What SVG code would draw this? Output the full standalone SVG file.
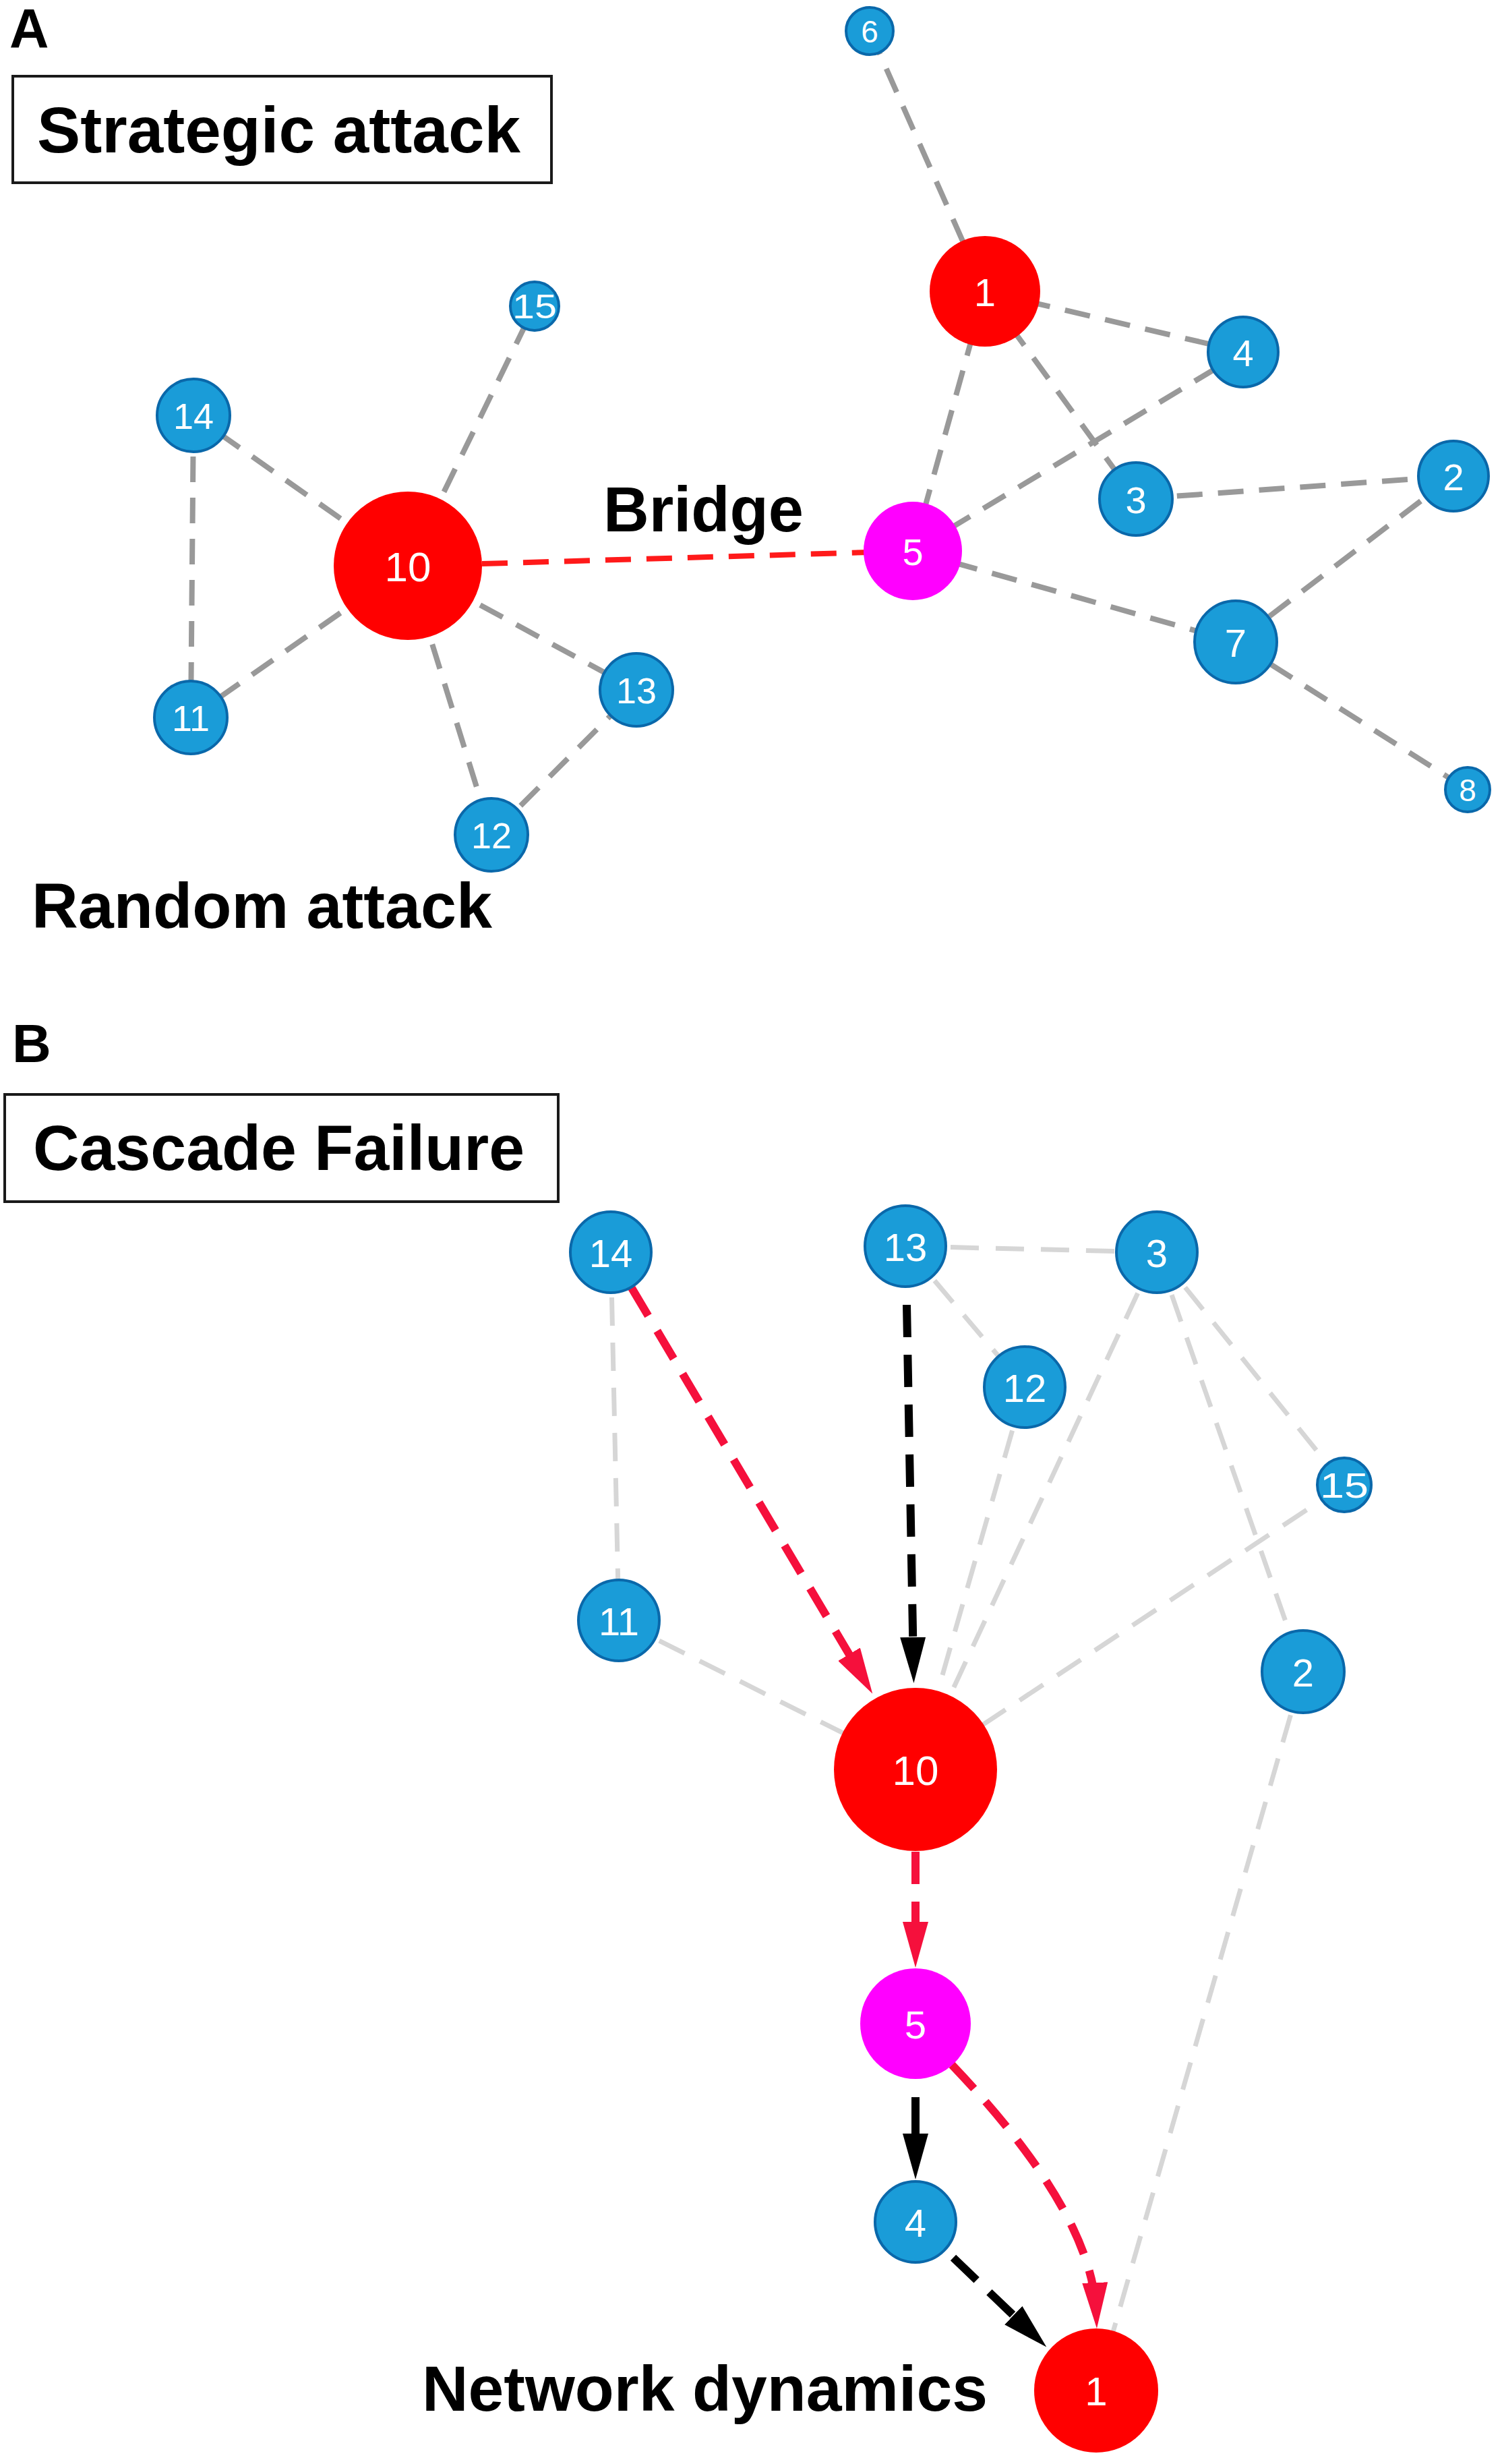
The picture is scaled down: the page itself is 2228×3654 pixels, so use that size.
<svg xmlns="http://www.w3.org/2000/svg" width="2228" height="3654" viewBox="0 0 2228 3654">
<style>
.bg{fill:#ffffff}
.lbl{font-family:"Liberation Sans",Arial,sans-serif;font-weight:bold;fill:#000}
.box{fill:#fff;stroke:#1a1a1a;stroke-width:4}
.blue{fill:#1a9cd8;stroke:#0a68aa;stroke-width:4}
.red{fill:#ff0000}
.mag{fill:#ff00ff}
.nt{font-family:"Liberation Sans",Arial,sans-serif;fill:#fff;text-anchor:middle;dominant-baseline:central}
.ga{stroke:#999999;stroke-width:8;stroke-dasharray:38 23;fill:none}
.gb{stroke:#d6d6d6;stroke-width:7;stroke-dasharray:42 25;fill:none}
.ra{stroke:#ff1a1a;stroke-width:8;stroke-dasharray:38 23;fill:none}
.rb{stroke:#f5103c;stroke-width:12;stroke-dasharray:48 26;fill:none}
.kb{stroke:#000;stroke-width:12;stroke-dasharray:48 26;fill:none}
.ks{stroke:#000;stroke-width:12;fill:none}
</style>
<defs>
<marker id="arR" markerUnits="userSpaceOnUse" markerWidth="68" markerHeight="38" viewBox="0 0 68 38" refX="44" refY="19" orient="auto">
<path d="M0,0 L68,19 L0,38 z" fill="#f5103c"/>
</marker>
<marker id="arK" markerUnits="userSpaceOnUse" markerWidth="68" markerHeight="38" viewBox="0 0 68 38" refX="44" refY="19" orient="auto">
<path d="M0,0 L68,19 L0,38 z" fill="#000"/>
</marker>
</defs>
<rect class="bg" x="0" y="0" width="2228" height="3654"/>

<!-- Panel A texts -->
<text class="lbl" x="14" y="70" font-size="81">A</text>
<g id="box-strategic">
<rect class="box" x="19" y="113" width="799" height="158"/>
<text class="lbl" x="55" y="226" font-size="97" textLength="717" lengthAdjust="spacingAndGlyphs">Strategic attack</text>
</g>
<text class="lbl" x="895" y="788" font-size="94" textLength="297" lengthAdjust="spacingAndGlyphs">Bridge</text>
<text class="lbl" x="47" y="1376" font-size="95" textLength="683" lengthAdjust="spacingAndGlyphs">Random attack</text>

<!-- Panel B texts -->
<text class="lbl" x="18" y="1575" font-size="80">B</text>
<g id="box-cascade">
<rect class="box" x="7" y="1623" width="821" height="159"/>
<text class="lbl" x="49" y="1735" font-size="95" textLength="729" lengthAdjust="spacingAndGlyphs">Cascade Failure</text>
</g>
<text class="lbl" x="626" y="3575" font-size="95" textLength="839" lengthAdjust="spacingAndGlyphs">Network dynamics</text>

<!-- Connectors -->
<g id="connectors">
<!-- Panel A -->
<line class="ga" x1="1290" y1="46" x2="1461" y2="432"/>
<line class="ga" x1="1461" y1="432" x2="1844" y2="522"/>
<line class="ga" x1="1461" y1="432" x2="1685" y2="740"/>
<line class="ga" x1="1461" y1="432" x2="1354" y2="817"/>
<line class="ga" x1="1354" y1="817" x2="1844" y2="522"/>
<line class="ga" x1="1685" y1="740" x2="2156" y2="706"/>
<line class="ga" x1="2156" y1="706" x2="1833" y2="952"/>
<line class="ga" x1="1354" y1="817" x2="1833" y2="952"/>
<line class="ga" x1="1833" y1="952" x2="2177" y2="1171"/>
<line class="ga" x1="605" y1="839" x2="793" y2="454"/>
<line class="ga" x1="605" y1="839" x2="287" y2="616"/>
<line class="ga" x1="287" y1="616" x2="283" y2="1064"/>
<line class="ga" x1="605" y1="839" x2="283" y2="1064"/>
<line class="ga" x1="605" y1="839" x2="944" y2="1023"/>
<line class="ga" x1="605" y1="839" x2="729" y2="1238"/>
<line class="ga" x1="729" y1="1238" x2="944" y2="1023"/>
<line class="ra" x1="715" y1="836" x2="1290" y2="819"/>
<!-- Panel B light edges -->
<line class="gb" x1="906" y1="1857" x2="918" y2="2403"/>
<line class="gb" x1="1343" y1="1848" x2="1716" y2="1857"/>
<line class="gb" x1="1343" y1="1848" x2="1520" y2="2057"/>
<line class="gb" x1="918" y1="2403" x2="1358" y2="2624"/>
<line class="gb" x1="1520" y1="2057" x2="1358" y2="2624"/>
<line class="gb" x1="1716" y1="1857" x2="1358" y2="2624"/>
<line class="gb" x1="1994" y1="2202" x2="1358" y2="2624"/>
<line class="gb" x1="1716" y1="1857" x2="1994" y2="2202"/>
<line class="gb" x1="1716" y1="1857" x2="1933" y2="2479"/>
<line class="gb" x1="1933" y1="2479" x2="1626" y2="3545"/>
<!-- Panel B arrows -->
<line class="rb" x1="937" y1="1910" x2="1282" y2="2491" marker-end="url(#arR)"/>
<line class="kb" x1="1345" y1="1935" x2="1355" y2="2472" marker-end="url(#arK)"/>
<line class="rb" x1="1358" y1="2746" x2="1358" y2="2894" marker-end="url(#arR)"/>
<line class="ks" x1="1358" y1="3110" x2="1358" y2="3208" marker-end="url(#arK)"/>
<line class="kb" x1="1414" y1="3348" x2="1535" y2="3464" marker-end="url(#arK)"/>
<path class="rb" d="M1412,3062 Q1620,3280 1626,3429" marker-end="url(#arR)"/>
</g>

<!-- Panel A nodes -->
<g id="a-n6"><circle class="blue" cx="1290" cy="46" r="35"/><text class="nt" x="1290" y="47" font-size="46">6</text></g>
<g id="a-n1"><circle class="red" cx="1461" cy="432" r="82"/><text class="nt" x="1461" y="433" font-size="58">1</text></g>
<g id="a-n4"><circle class="blue" cx="1844" cy="522" r="52"/><text class="nt" x="1844" y="523" font-size="56">4</text></g>
<g id="a-n3"><circle class="blue" cx="1685" cy="740" r="54"/><text class="nt" x="1685" y="741" font-size="56">3</text></g>
<g id="a-n2"><circle class="blue" cx="2156" cy="706" r="52"/><text class="nt" x="2156" y="707" font-size="56">2</text></g>
<g id="a-n5"><circle class="mag" cx="1354" cy="817" r="73"/><text class="nt" x="1354" y="818" font-size="56">5</text></g>
<g id="a-n7"><circle class="blue" cx="1833" cy="952" r="61"/><text class="nt" x="1833" y="953" font-size="58">7</text></g>
<g id="a-n8"><circle class="blue" cx="2177" cy="1171" r="33"/><text class="nt" x="2177" y="1172" font-size="46">8</text></g>
<g id="a-n10"><circle class="red" cx="605" cy="839" r="110"/><text class="nt" x="605" y="840" font-size="62">10</text></g>
<g id="a-n15"><circle class="blue" cx="793" cy="454" r="36"/><text class="nt" x="793" y="455" font-size="50" textLength="66" lengthAdjust="spacingAndGlyphs">15</text></g>
<g id="a-n14"><circle class="blue" cx="287" cy="616" r="54"/><text class="nt" x="287" y="617" font-size="54">14</text></g>
<g id="a-n11"><circle class="blue" cx="283" cy="1064" r="54"/><text class="nt" x="283" y="1065" font-size="54">11</text></g>
<g id="a-n13"><circle class="blue" cx="944" cy="1023" r="54"/><text class="nt" x="944" y="1024" font-size="54">13</text></g>
<g id="a-n12"><circle class="blue" cx="729" cy="1238" r="54"/><text class="nt" x="729" y="1239" font-size="54">12</text></g>

<!-- Panel B nodes -->
<g id="b-n14"><circle class="blue" cx="906" cy="1857" r="60"/><text class="nt" x="906" y="1858" font-size="58">14</text></g>
<g id="b-n13"><circle class="blue" cx="1343" cy="1848" r="60"/><text class="nt" x="1343" y="1849" font-size="58">13</text></g>
<g id="b-n3"><circle class="blue" cx="1716" cy="1857" r="60"/><text class="nt" x="1716" y="1858" font-size="58">3</text></g>
<g id="b-n12"><circle class="blue" cx="1520" cy="2057" r="60"/><text class="nt" x="1520" y="2058" font-size="58">12</text></g>
<g id="b-n15"><circle class="blue" cx="1994" cy="2202" r="40"/><text class="nt" x="1994" y="2203" font-size="52" textLength="72" lengthAdjust="spacingAndGlyphs">15</text></g>
<g id="b-n11"><circle class="blue" cx="918" cy="2403" r="60"/><text class="nt" x="918" y="2404" font-size="58">11</text></g>
<g id="b-n2"><circle class="blue" cx="1933" cy="2479" r="61"/><text class="nt" x="1933" y="2480" font-size="58">2</text></g>
<g id="b-n10"><circle class="red" cx="1358" cy="2624" r="121"/><text class="nt" x="1358" y="2625" font-size="62">10</text></g>
<g id="b-n5"><circle class="mag" cx="1358" cy="3001" r="82"/><text class="nt" x="1358" y="3002" font-size="58">5</text></g>
<g id="b-n4"><circle class="blue" cx="1358" cy="3295" r="60"/><text class="nt" x="1358" y="3296" font-size="58">4</text></g>
<g id="b-n1"><circle class="red" cx="1626" cy="3545" r="92"/><text class="nt" x="1626" y="3546" font-size="60">1</text></g>
</svg>
